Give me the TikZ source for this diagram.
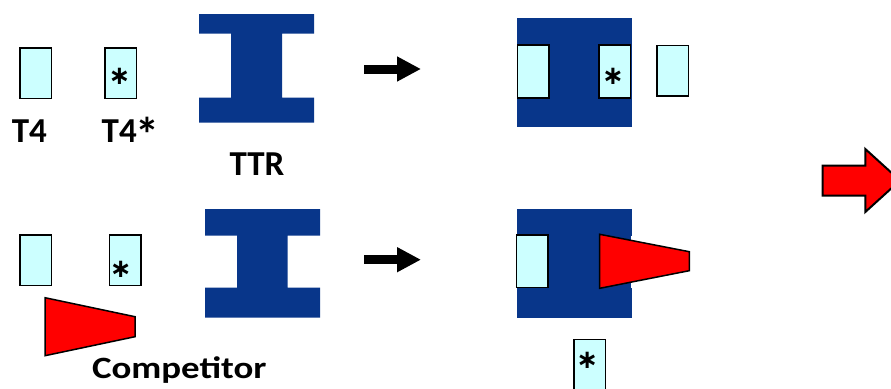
\documentclass[tikz,border=0pt]{standalone}
\usepackage{fontspec}
\usepackage{graphicx}
\setmainfont{Carlito}
\newfontfamily\simbolos{DejaVu Sans}
\usetikzlibrary{arrows.meta}
\definecolor{azulttr}{HTML}{08368A}
\definecolor{celeste}{HTML}{CCFFFF}
\definecolor{rojo}{HTML}{FF0000}
\tikzset{
  caja/.style={rectangle, draw=black, line width=1.5pt, fill=celeste,
    minimum width=31.5pt, minimum height=50.5pt, inner sep=0pt},
  asterisco/.style={font=\simbolos\bfseries\fontsize{26}{26}\selectfont, inner sep=0pt, anchor=base},
  rotulo/.style={font=\bfseries\fontsize{35}{35}\selectfont, inner sep=0pt, anchor=base},
  bloque/.style={fill=azulttr},
  rival/.style={fill=rojo, draw=black, line width=1.5pt, line join=miter},
  flecha/.style={-{Triangle[length=24pt,width=23.5pt]}, line width=9pt},
  flechagrande/.style={fill=rojo, draw=black, line width=2pt, line join=miter},
}

\begin{document}
\begin{tikzpicture}[x=1pt,y=-1pt]
    \useasboundingbox (0,0) rectangle (891,388);
    \clip (0,0) rectangle (891,388);

    % Fila superior: T4, T4* y TTR libres
    \node[caja] (t4a) at (35.8,73.2) {};
    \node[caja] (t4sa) at (120.8,73.2) {};
    \node[asterisco] (asta) at (119.5,84) {∗};
    \node[rotulo] (lt4) at (29.3,142.3) {T4};
    \node[rotulo, anchor=base west] (lt4s) at (101.5,142.3)
      {T4\kern-1.5pt\raisebox{-9.4pt}{\fontsize{48}{48}\selectfont *}};
    \fill[bloque] (199,14) -- (314,14) -- (314,33.7) -- (282,33.7) -- (282,97.7)
      -- (314,97.7) -- (314,122.7) -- (199,122.7) -- (199,97.7) -- (231,97.7)
      -- (231,33.7) -- (199,33.7) -- cycle;
    \node[rotulo] (lttr) at (257,175) {TTR};
    \coordinate (pa) at (364,69);
    \coordinate (qa) at (421,69);
    \draw[flecha] (pa) -- (qa);

    % Complejo: TTR con T4 y T4* unidos
    \fill[bloque] (517,18) rectangle (632,126.7);
    \node[caja, minimum height=53pt] (t4b) at (533,71.7) {};
    \node[caja, minimum height=53pt] (t4sb) at (614.5,71.7) {};
    \node[asterisco] (astb) at (613,84) {∗};
    \node[caja] (t4c) at (672.8,70.5) {};

    % Fila inferior: con competidor
    \node[caja] (t4d) at (35.8,260) {};
    \node[caja] (t4sd) at (125.2,260) {};
    \node[asterisco] (astd) at (120.7,277) {∗};
    \draw[rival] (45,297.7) -- (135,316.7) -- (135,336.7) -- (45,355.7) -- cycle;
    \node[rotulo, font=\bfseries\fontsize{31}{31}\selectfont] (lcomp) at (179.3,378.3)
      {\scalebox{1.19}[1]{Competitor}};
    \fill[bloque] (205,209) -- (320,209) -- (320,235.7) -- (287.7,235.7) -- (287.7,287.7)
      -- (320,287.7) -- (320,317.7) -- (205,317.7) -- (205,287.7) -- (237,287.7)
      -- (237,235.7) -- (205,235.7) -- cycle;
    \coordinate (pb) at (364,259.7);
    \coordinate (qb) at (421,259.7);
    \draw[flecha] (pb) -- (qb);

    % Complejo: TTR con T4 y competidor, T4* desplazado
    \fill[bloque] (517,209) rectangle (632,317.7);
    \fill[white] (630.5,235.7) rectangle (632,287.7);
    \node[caja, minimum height=52.5pt] (t4e) at (532.2,261.3) {};
    \draw[rival] (599.7,234.3) -- (689.3,251.7) -- (689.3,270.7) -- (599.7,288.3) -- cycle;
    \node[caja] (t4sf) at (589.7,364.8) {};
    \node[asterisco] (astf) at (587.3,368.7) {∗};

    % Flecha grande
    \draw[flechagrande] (822.7,165.7) -- (865.3,165.7) -- (865.3,149) -- (900,180.5)
      -- (865.3,212) -- (865.3,195.7) -- (822.7,195.7) -- cycle;
\end{tikzpicture}
\end{document}
